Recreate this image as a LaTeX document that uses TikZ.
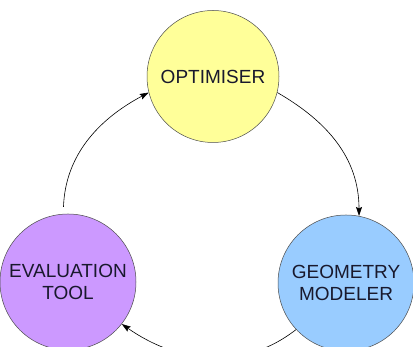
\documentclass[tikz,border=0pt]{standalone}
\usepackage{fontspec}
\setmainfont{Liberation Sans}
\usetikzlibrary{arrows.meta}
\definecolor{optyellow}{RGB}{255,255,153}
\definecolor{evalpurple}{RGB}{204,153,255}
\definecolor{geoblue}{RGB}{153,204,255}
\definecolor{labelink}{RGB}{25,25,45}

\begin{document}
\begin{tikzpicture}[x=1pt,y=1pt,>={Stealth[length=9pt,width=6pt,inset=1.5pt]},line width=0.6pt,main node/.style={circle,draw=black!70,line width=0.5pt,inner sep=0pt,minimum size=136pt,align=center,text=labelink,font=\fontsize{19}{22}\selectfont}]

            \useasboundingbox (0,0) rectangle (413,347);

            \node[main node, fill=optyellow, minimum size=132pt] (opt) at (213,270.5) {OPTIMISER};
            \node[main node, fill=evalpurple] (eval) at (68,65) {EVALUATION\\TOOL};
            \node[main node, fill=geoblue] (geo) at (346,64) {GEOMETRY\\MODELER};

            \draw[->, shorten <=7pt] (eval.94) to[out=88,in=208] (opt.194);
            \draw[->] (opt.-14) to[out=-30,in=90] (geo.79);
            \draw[->] (geo.223) to[out=218,in=-35] (eval.-38);

            ;
        \end{tikzpicture}
\end{document}
